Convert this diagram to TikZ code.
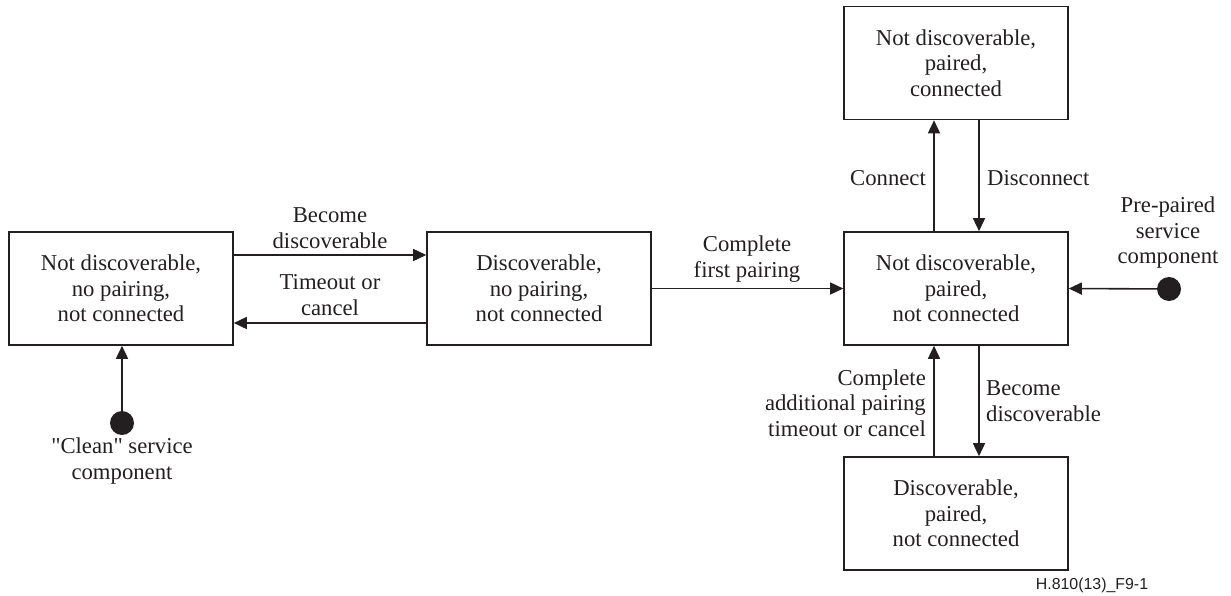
\documentclass[tikz,border=0pt]{standalone}
\usepackage{fontspec}
\setmainfont{Liberation Serif}
\newfontfamily\figsans{Liberation Sans}
\newcommand{\sq}{{\addfontfeatures{Ligatures=TeXOff}"}}
\usetikzlibrary{arrows.meta}
\definecolor{ink}{HTML}{231F20}
\begin{document}
\begin{tikzpicture}[x=1pt,y=-1pt,
  state/.style={draw=ink,line width=1.6pt,minimum width=224pt,minimum height=113pt,align=center,inner sep=0pt,font=\fontsize{22.7}{25.5}\selectfont,text=ink},
  lbl/.style={align=center,font=\fontsize{22.7}{25.5}\selectfont,text=ink,inner sep=0pt},
  arr/.style={draw=ink,line width=1.6pt,-{Triangle[length=13pt,width=12pt]}},
  dot/.style={circle,fill=ink,minimum size=24pt,inner sep=0pt}]
\useasboundingbox (0,0) rectangle (1231,596);
\node[state] (a) at (121,288.5) {Not discoverable,\\no pairing,\\not connected};
\node[state] (b) at (539,288.5) {Discoverable,\\no pairing,\\not connected};
\node[state] (c) at (956,288.5) {Not discoverable,\\paired,\\not connected};
\node[state] (t) at (956,63) {Not discoverable,\\paired,\\connected};
\node[state] (d) at (956,513.5) {Discoverable,\\paired,\\not connected};
\node[dot] (s1) at (122,423) {};
\node[dot] (s2) at (1169,289) {};
% connectors
\draw[arr] ([yshift=33.5pt]a.east) -- ([yshift=33.5pt]b.west);
\draw[arr] ([yshift=-34.5pt]b.west) -- ([yshift=-34.5pt]a.east);
\draw[arr] (b.east) -- (c.west);
\draw[arr] ([xshift=-22pt]c.north) -- ([xshift=-22pt]t.south);
\draw[arr] ([xshift=23pt]t.south) -- ([xshift=23pt]c.north);
\draw[arr] ([xshift=23pt]c.south) -- ([xshift=23pt]d.north);
\draw[arr] ([xshift=-22pt]d.north) -- ([xshift=-22pt]c.south);
\draw[arr] (s1) -- (s1 |- a.south);
\draw[arr] (s2) -- (c.east);
% labels
\node[lbl] (l1) at (330,228) {Become\\discoverable};
\node[lbl] (l2) at (330,295) {Timeout or\\cancel};
\node[lbl] (l3) at (747,259) {Complete\\first pairing};
\node[lbl,anchor=east] (l4) at (926,178) {Connect};
\node[lbl,anchor=west] (l5) at (987,178) {Disconnect};
\node[lbl] (l6) at (1168,233) {Pre-paired\\service\\component};
\node[lbl,anchor=east,align=right] (l7) at (926,403) {Complete\\additional pairing\\timeout or cancel};
\node[lbl,anchor=west,align=left] (l8) at (986,401) {Become\\discoverable};
\node[lbl] (l9) at (122,461) {\sq Clean\sq{} service\\component};
\node[text=ink,inner sep=0pt,font=\figsans\fontsize{15.9}{18}\selectfont] (fig) at (1092,585) {H.810(13)\_F9-1};
\end{tikzpicture}
\end{document}
